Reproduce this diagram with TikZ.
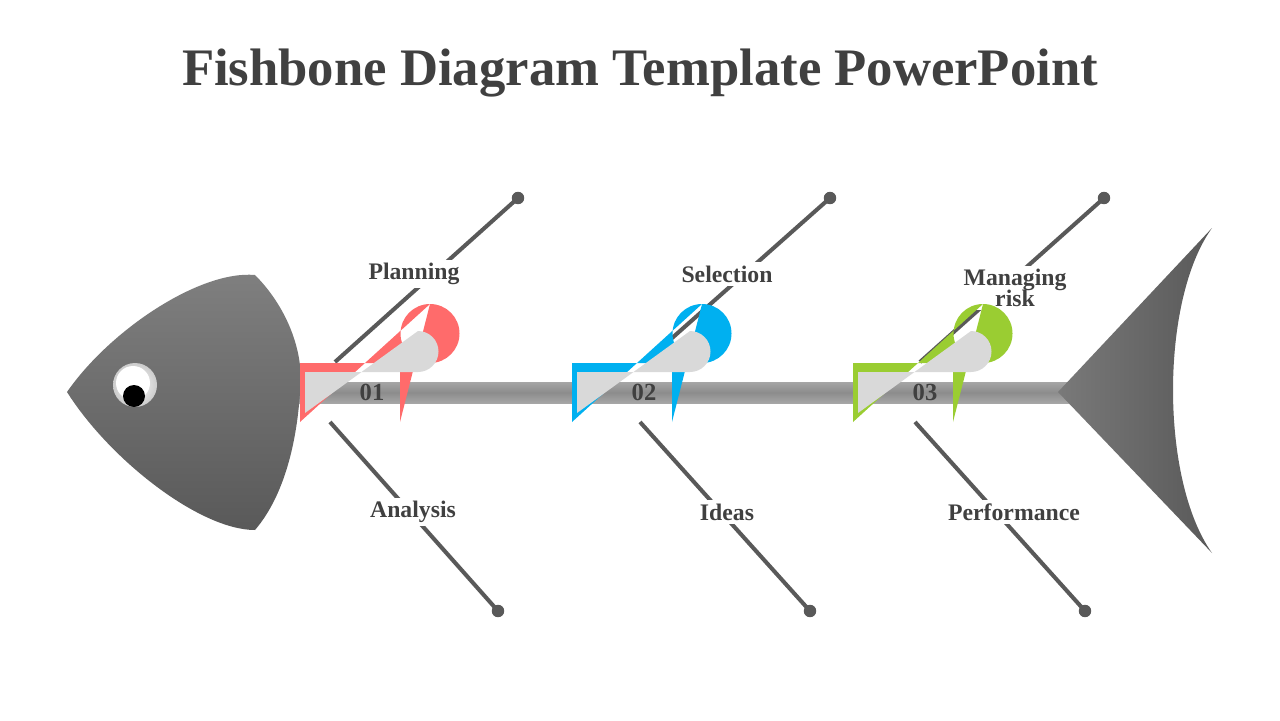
\documentclass[tikz,border=0pt]{standalone}
\usepackage{fontspec}
\setmainfont{Liberation Serif}
\usetikzlibrary{positioning}
\definecolor{ink}{HTML}{404040}
\definecolor{bone}{HTML}{595959}
\definecolor{tagred}{HTML}{FF6B6B}
\definecolor{tagblue}{HTML}{00B0F0}
\definecolor{taggreen}{HTML}{9ACD32}
\definecolor{tagfill}{HTML}{D9D9D9}
\begin{document}
\begin{tikzpicture}[x=0.02cm,y=-0.02cm,
    dot/.style={circle,fill=bone,inner sep=0pt,minimum size=12.5pt*0.567},
    boneline/.style={draw=bone,line width=2.3pt},
    lbl/.style={fill=white,text=ink,font=\bfseries\fontsize{13.5}{15}\selectfont,align=center,inner sep=2pt},
    num/.style={text=ink,font=\bfseries\fontsize{14}{16}\selectfont}]
  \useasboundingbox (0,0) rectangle (1280,720);
  \node[text=ink,font=\bfseries\fontsize{30}{34}\selectfont] (title) at (640,73) {Fishbone Diagram Template PowerPoint};

  % bones
  \foreach \n/\ux/\lx/\ex/\fx in {a/335/330/518/498, b/645/640/830/810, c/920/915/1104/1085}{
    \coordinate (u\n) at (\ux,362);
    \coordinate (l\n) at (\lx,422);
    \node[dot] (du\n) at (\ex,198) {};
    \node[dot] (dl\n) at (\fx,611) {};
    \draw[boneline] (u\n) -- (du\n.center);
    \draw[boneline] (l\n) -- (dl\n.center);
  }
  \node[lbl] (plan) at (414,274) {Planning};
  \node[lbl] (sel) at (727,274) {Selection};
  \node[lbl] (risk) at (1015,288) {Managing\\[-3pt]risk};
  \node[lbl] (ana) at (413,512) {Analysis};
  \node[lbl] (ideas) at (727,512) {Ideas};
  \node[lbl] (perf) at (1014,512) {Performance};

  % spine
  \shade[top color=gray!70,bottom color=gray!70,middle color=gray!110!black] (295,382) rectangle (1075,403);

  % head
  \shade[left color=gray!90!black,right color=gray!110!black,top color=gray!100!black,bottom color=black!65]
    (255,275) .. controls (285,305) and (305,350) .. (300,392)
    .. controls (297,440) and (285,495) .. (255,530)
    .. controls (200,530) and (110,460) .. (67,392)
    .. controls (110,330) and (200,270) .. (255,275) -- cycle;
  \shade[inner color=white,outer color=gray!40] (135,385) circle (22);
  \fill[white] (133,383) circle (17);
  \fill[black] (134,396) circle (11);

  % tail
  \shade[left color=gray!95!black,right color=black!65]
    (1058,392) -- (1212,228) .. controls (1160,300) and (1160,480) .. (1212,553) -- cycle;

  % tags
  \foreach \x/\c/\t in {300/tagred/01, 572/tagblue/02, 853/taggreen/03}{
    \fill[\c] (\x,363) -- (\x+130,363) arc (-90:90:-29.5) -- (\x,422) -- cycle;
    \fill[\c] (\x+130,363) arc (90:-90:29.5) -- (\x+100,422) -- (\x+100,363) -- cycle;
    \fill[tagfill] (\x+5,372) -- (\x+118,372) arc (90:-90:20.5) -- (\x+5,413) -- cycle;
    \node[num] (t\t) at (\x+72,392) {\t};
  }
\end{tikzpicture}
\end{document}
